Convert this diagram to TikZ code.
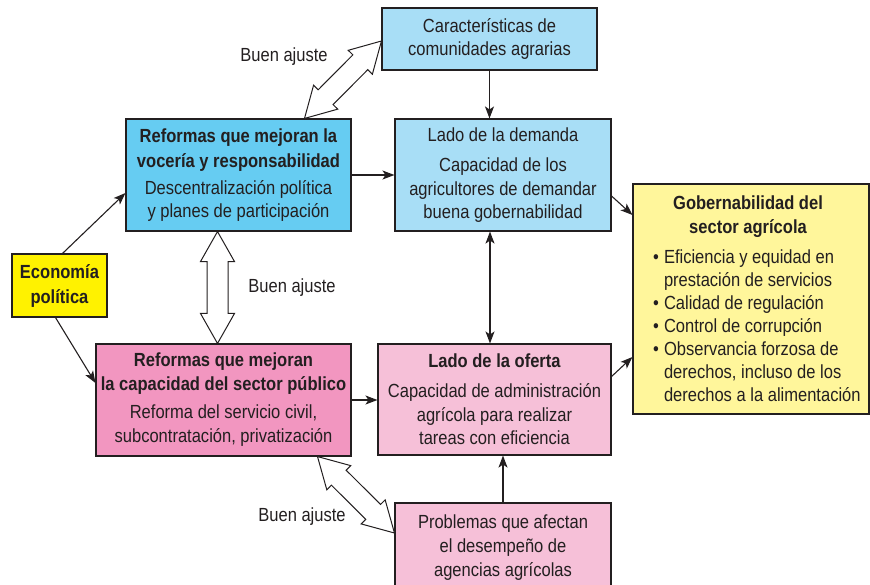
\documentclass[tikz,border=0pt]{standalone}
\usepackage{fontspec}
\setmainfont{Liberation Sans}[FakeStretch=0.87]
\usetikzlibrary{arrows.meta,calc}

\definecolor{demblue}{RGB}{168,222,246}
\definecolor{vozblue}{RGB}{102,204,242}
\definecolor{cappink}{RGB}{242,150,192}
\definecolor{ofpink}{RGB}{246,192,216}
\definecolor{ecoyellow}{RGB}{255,242,0}
\definecolor{gobyellow}{RGB}{255,246,155}
\definecolor{inkgray}{RGB}{35,31,32}

% hollow double arrow between two points
\newcommand{\ajuste}[2]{%
	\path (#1) coordinate (fa) (#2) coordinate (fb);
	\path ($(fa)!30pt!(fb)$) coordinate (fa1) ($(fb)!30pt!(fa)$) coordinate (fb1);
	\draw[fitarrow] (fa) -- ($(fa1)!17pt!90:(fb)$) -- ($(fa1)!10.5pt!90:(fb)$)
		-- ($(fb1)!10.5pt!-90:(fa)$) -- ($(fb1)!17pt!-90:(fa)$) -- (fb)
		-- ($(fb1)!17pt!90:(fa)$) -- ($(fb1)!10.5pt!90:(fa)$)
		-- ($(fa1)!10.5pt!-90:(fb)$) -- ($(fa1)!17pt!-90:(fb)$) -- cycle;
}
\newcommand{\gobitem}[1]{\par\hangindent=11pt\hangafter=1\noindent\makebox[11pt][l]{\textbullet}#1}

\begin{document}
\begin{tikzpicture}[x=1pt,y=-1pt,
	every node/.style={font=\fontsize{19}{23}\selectfont, text=inkgray},
	plainbox/.style={draw=inkgray, line width=1.1pt, inner sep=0pt},
	box/.style={plainbox, align=center},
	link/.style={draw=inkgray, line width=1.1pt, -{Stealth[length=12pt,width=9pt,inset=3pt]}},
	twolink/.style={link, {Stealth[length=12pt,width=9pt,inset=3pt]}-{Stealth[length=12pt,width=9pt,inset=3pt]}},
	fitarrow/.style={draw=inkgray, line width=1pt, fill=white, line join=miter}]
	\useasboundingbox (0,0) rectangle (870,584);

	% boxes
	\node[box, fill=demblue, minimum width=215pt, minimum height=62pt] (ca) at (489.5,39)
		{Características de\\comunidades agrarias};
	\node[box, fill=demblue, minimum width=216pt, minimum height=112pt] (dm) at (503,175)
		{Lado de la demanda\\[7pt]Capacidad de los\\[1pt]agricultores de demandar\\buena gobernabilidad};
	\node[box, fill=vozblue, minimum width=225pt, minimum height=112pt] (rv) at (238.5,175)
		{\textbf{Reformas que mejoran la}\\[2pt]\textbf{vocería y responsabilidad}\\[4pt]Descentralización política\\y planes de participación};
	\node[box, fill=cappink, minimum width=255pt, minimum height=112pt] (rc) at (223.5,400)
		{\textbf{Reformas que mejoran}\\[1pt]\textbf{la capacidad del sector público}\\[5pt]Reforma del servicio civil,\\[1pt]subcontratación, privatización};
	\node[box, fill=ofpink, minimum width=233pt, minimum height=111pt] (of) at (494.5,399.5)
		{\textbf{Lado de la oferta}\\[7pt]Capacidad de administración\\[1pt]agrícola para realizar\\tareas con eficiencia};
	\node[box, fill=ofpink, minimum width=216pt, minimum height=90pt] (pb) at (503,548)
		{Problemas que afectan\\[1pt]el desempeño de\\[1pt]agencias agrícolas};
	\node[box, fill=ecoyellow, minimum width=95pt, minimum height=63pt] (eco) at (59.5,285.5)
		{\textbf{Economía}\\[2pt]\textbf{política}};
	\node[plainbox, fill=gobyellow, minimum width=236pt, minimum height=230pt] (gob) at (751,299)
		{\hspace*{17pt}\parbox{213pt}{\raggedright
			{\centering\bfseries\hspace*{-23pt}Gobernabilidad del\\[1pt]\hspace*{-23pt}sector agrícola\par}
			\vspace{7pt}
			\gobitem{Eficiencia y equidad en\newline prestación de servicios}
			\gobitem{Calidad de regulación}
			\gobitem{Control de corrupción}
			\gobitem{Observancia forzosa de\newline derechos, incluso de los\newline derechos a la alimentación}\par}};

	% plain arrows
	\coordinate (dtop) at ([xshift=-13pt]dm.south);
	\draw[link] (ca.south) -- (ca.south |- dm.north);
	\draw[link] (rv.east) -- (dm.west);
	\draw[link] (rc.east) -- (rc.east -| of.west);
	\draw[twolink] (dtop) -- (dtop |- of.north);
	\draw[link] (pb.north) -- (pb.north |- of.south);
	\draw[link] ([xshift=3pt]eco.north) -- ([yshift=-18pt]rv.west);
	\draw[link] ([xshift=-4pt]eco.south) -- ([yshift=17pt]rc.west);
	\draw[link] ([yshift=-21pt]dm.east) -- ([yshift=84pt]gob.west);
	\draw[link] ([yshift=23pt]of.east) -- ([yshift=-58pt]gob.west);

	% good fit arrows
	\coordinate (vtop) at ([xshift=-21pt]rv.south);
	\ajuste{[xshift=66pt]rv.north}{[yshift=-2pt]ca.west}
	\ajuste{vtop}{vtop |- rc.north}
	\ajuste{[xshift=94pt]rc.south}{[yshift=15pt]pb.west}
	\node (aj1) at (284,57) {Buen ajuste};
	\node (aj2) at (292,288) {Buen ajuste};
	\node (aj3) at (302,517) {Buen ajuste};
\end{tikzpicture}
\end{document}
